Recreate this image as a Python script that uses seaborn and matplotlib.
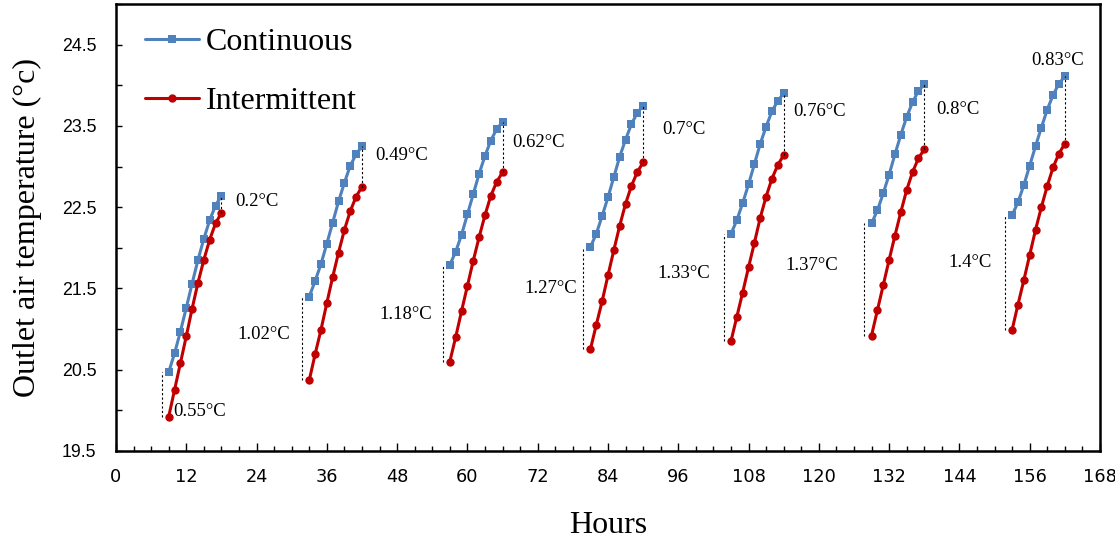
import numpy as np
import pandas as pd
import matplotlib.pyplot as plt
import seaborn as sns
from matplotlib.ticker import MultipleLocator

# ------------------------------------------------------------
# Data (one row per daily cycle)
# ------------------------------------------------------------
cycle_start = [9, 33, 57, 81, 105, 129, 153]   # first hour of each cycle
hour_offset = [0, 1, 2, 3, 4, 5, 6, 7, 8, 9]   # hourly readings within a cycle

continuous = [
    [20.47, 20.70, 20.97, 21.26, 21.56, 21.85, 22.11, 22.34, 22.52, 22.64],
    [21.40, 21.59, 21.80, 22.05, 22.31, 22.57, 22.80, 23.01, 23.15, 23.25],
    [21.79, 21.95, 22.16, 22.41, 22.66, 22.91, 23.13, 23.32, 23.46, 23.55],
    [22.01, 22.17, 22.39, 22.62, 22.87, 23.12, 23.33, 23.52, 23.66, 23.75],
    [22.17, 22.34, 22.55, 22.78, 23.03, 23.28, 23.49, 23.68, 23.81, 23.90],
    [22.30, 22.46, 22.67, 22.90, 23.15, 23.39, 23.61, 23.79, 23.93, 24.01],
    [22.40, 22.56, 22.77, 23.01, 23.25, 23.48, 23.70, 23.88, 24.02, 24.11],
]
intermittent = [
    [19.92, 20.25, 20.58, 20.91, 21.25, 21.57, 21.85, 22.10, 22.30, 22.43],
    [20.37, 20.69, 20.99, 21.32, 21.64, 21.94, 22.22, 22.45, 22.63, 22.75],
    [20.60, 20.90, 21.22, 21.53, 21.84, 22.13, 22.40, 22.64, 22.81, 22.93],
    [20.75, 21.05, 21.34, 21.66, 21.97, 22.27, 22.54, 22.76, 22.93, 23.05],
    [20.85, 21.15, 21.45, 21.76, 22.06, 22.37, 22.63, 22.85, 23.02, 23.14],
    [20.92, 21.23, 21.54, 21.85, 22.15, 22.44, 22.71, 22.93, 23.10, 23.21],
    [20.99, 21.30, 21.60, 21.91, 22.22, 22.50, 22.76, 22.99, 23.16, 23.28],
]

start_gap_labels = ["0.55°C", "1.02°C", "1.18°C", "1.27°C", "1.33°C", "1.37°C", "1.4°C"]
end_gap_labels = ["0.2°C", "0.49°C", "0.62°C", "0.7°C", "0.76°C", "0.8°C", "0.83°C"]

# where the gap labels sit (hours, temperature) - layout only
start_label_pos = [(9.8, 19.99), (29.7, 20.93), (54.0, 21.18), (78.7, 21.50),
                   (101.5, 21.69), (123.3, 21.78), (149.6, 21.82)]
end_label_pos = [(20.4, 22.57), (44.3, 23.14), (67.6, 23.29), (93.2, 23.45),
                 (115.6, 23.68), (140.0, 23.70), (160.8, 24.31)]

# ------------------------------------------------------------
# Long table for seaborn
# ------------------------------------------------------------
rows = []
for c, start in enumerate(cycle_start):
    for k, off in enumerate(hour_offset):
        rows.append({"Hours": start + off, "Temp": continuous[c][k], "Mode": "Continuous", "Cycle": c})
        rows.append({"Hours": start + off, "Temp": intermittent[c][k], "Mode": "Intermittent", "Cycle": c})
df = pd.DataFrame(rows)

sns.set_style("white")
serif = ["Liberation Serif", "DejaVu Serif"]
plt.rcParams["font.family"] = serif
plt.rcParams["text.color"] = "black"
plt.rcParams["axes.labelcolor"] = "black"
plt.rcParams["xtick.color"] = "black"
plt.rcParams["ytick.color"] = "black"

fig, ax = plt.subplots(figsize=(11.15, 5.46), dpi=100)
fig.subplots_adjust(left=0.104, right=0.9865, bottom=0.174, top=0.9927)

palette = {"Continuous": "#4F81BD", "Intermittent": "#C00000"}
sns.lineplot(data=df, x="Hours", y="Temp", hue="Mode", style="Mode", units="Cycle",
             estimator=None, sort=False, palette=palette,
             markers={"Continuous": "s", "Intermittent": "o"}, dashes=False,
             linewidth=2.2, markersize=6, markeredgewidth=0, ax=ax)

# dotted gap markers at the start and the end of each cycle
for c, start in enumerate(cycle_start):
    ax.vlines(start - 1.2, intermittent[c][0], continuous[c][0],
              colors="black", linestyles=(0, (2, 2)), linewidth=0.8)
    ax.vlines(start + hour_offset[-1], intermittent[c][-1], continuous[c][-1],
              colors="black", linestyles=(0, (2, 2)), linewidth=0.8)

for c in range(len(cycle_start)):
    x, y = start_label_pos[c]
    ha = "left" if c == 0 else "right"
    ax.text(x, y, start_gap_labels[c], ha=ha, va="center", fontsize=13.5)
    x, y = end_label_pos[c]
    ha = "center" if c == len(cycle_start) - 1 else "left"
    ax.text(x, y, end_gap_labels[c], ha=ha, va="center", fontsize=13.5)

# axes
ax.set_xlim(0, 168)
ax.set_ylim(19.5, 25.0)
ax.xaxis.set_major_locator(MultipleLocator(12))
ax.xaxis.set_minor_locator(MultipleLocator(3))
ax.set_yticks(np.arange(19.5, 24.6, 1.0))
ax.yaxis.set_minor_locator(MultipleLocator(0.5))
ax.tick_params(axis="both", which="both", direction="in", color="black", width=1.0,
               bottom=True, left=True, top=False, right=False)
ax.tick_params(axis="x", which="major", length=6, pad=12, labelsize=12.8,
               labelfontfamily="Liberation Sans Narrow")
ax.tick_params(axis="x", which="minor", length=3.5)
ax.tick_params(axis="y", which="both", length=4)
ax.tick_params(axis="y", which="major", pad=14, labelsize=12.8, labelfontfamily="Liberation Sans")
for s in ax.spines.values():
    s.set_color("black")
    s.set_linewidth(1.8)

ax.set_xlabel("Hours", fontsize=23, labelpad=18)
ax.set_ylabel("Outlet air temperature (°c)", fontsize=23, labelpad=14)

handles, labels = ax.get_legend_handles_labels()
ax.legend(handles, labels, loc="upper left", bbox_to_anchor=(0.0, 1.012), frameon=False,
          fontsize=23, labelspacing=0.95, handlelength=1.7, handletextpad=0.2)

fig.savefig("out.png", dpi=100)
